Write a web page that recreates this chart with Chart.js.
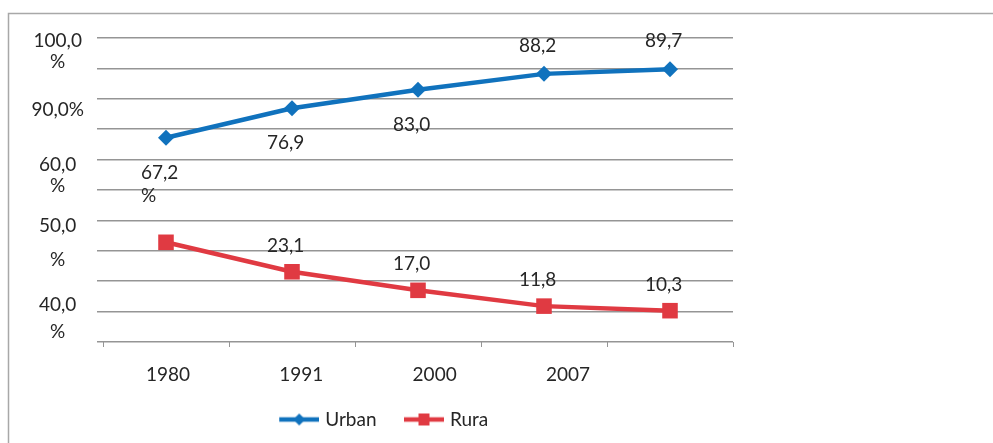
<!DOCTYPE html>
<html>
<head>
<meta charset="utf-8">
<script src="https://cdn.jsdelivr.net/npm/chart.js@4.4.0/dist/chart.umd.min.js"></script>
<style>
  html, body { margin: 0; padding: 0; background: #ffffff; }
  #c { display: block; }
</style>
</head>
<body>
<canvas id="c" width="993" height="443"></canvas>
<script>
// ---- data ----
const categories = ['1980', '1991', '2000', '2007', ''];
const urbanValues = [67.2, 76.9, 83.0, 88.2, 89.7];
const ruralValues = [32.8, 23.1, 17.0, 11.8, 10.3];
const urbanLabels = ['67,2\n%', '76,9', '83,0', '88,2', '89,7'];
const ruralLabels = ['', '23,1', '17,0', '11,8', '10,3'];
const seriesNames = ['Urban', 'Rura'];
const gridValues = [0, 10, 20, 30, 40, 50, 60, 70, 80, 90, 100];
const yTickValues = [99.2, 92.3, 76.4, 58.4, 51.2, 38.2, 27.0, 12.1, 3.2];
const yTickLabels = ['100,0', '%', '90,0%', '60,0', '%', '50,0', '%', '40,0', '%'];

const FONT = 'Lato';
const TEXT = '#262626';
const GRID = '#959595';
const BLUE = '#1072BD';
const RED = '#E03A42';

// legend icon: line + marker, drawn on a small canvas (left part left blank for spacing)
function legendIcon(color, shape) {
  const cv = document.createElement('canvas');
  cv.width = 51; cv.height = 16;
  const g = cv.getContext('2d');
  g.strokeStyle = color; g.lineWidth = 4.5;
  g.beginPath(); g.moveTo(11, 8); g.lineTo(51, 8); g.stroke();
  g.fillStyle = color;
  g.beginPath();
  if (shape === 'diamond') {
    g.moveTo(31, 2); g.lineTo(37, 8); g.lineTo(31, 14); g.lineTo(25, 8); g.closePath();
  } else {
    g.rect(25.5, 2, 11, 12);
  }
  g.fill();
  return cv;
}
const icons = [legendIcon(BLUE, 'diamond'), legendIcon(RED, 'square')];

const framePlugin = {
  id: 'frame',
  beforeDraw(chart) {
    const c = chart.ctx;
    c.save();
    c.strokeStyle = '#a8a8a8';
    c.lineWidth = 1.5;
    c.beginPath();
    c.moveTo(8.5, 443); c.lineTo(8.5, 13.5); c.lineTo(993, 13.5);
    c.stroke();
    c.restore();
  }
};

const valueLabelPlugin = {
  id: 'valueLabels',
  afterDatasetsDraw(chart) {
    const c = chart.ctx;
    const texts = [urbanLabels, ruralLabels];
    c.save();
    c.font = '19px ' + FONT;
    c.fillStyle = TEXT;
    c.textAlign = 'left';
    c.textBaseline = 'middle';
    texts.forEach((arr, di) => {
      const meta = chart.getDatasetMeta(di);
      meta.data.forEach((pt, i) => {
        const t = arr[i];
        if (!t) return;
        const lines = t.split('\n');
        let y;
        if (di === 0) y = i < 3 ? pt.y + 35 : pt.y - 28;
        else y = pt.y - 26;
        lines.forEach((ln, k) => c.fillText(ln, pt.x - 25, y + k * 23));
      });
    });
    c.restore();
  }
};

new Chart(document.getElementById('c'), {
  type: 'line',
  data: {
    labels: categories,
    datasets: [
      {
        label: seriesNames[0],
        data: urbanValues,
        borderColor: BLUE,
        backgroundColor: BLUE,
        borderWidth: 4.5,
        pointStyle: 'rectRot',
        pointRadius: 8,
        pointBorderWidth: 0,
        tension: 0,
        xAxisID: 'x',
        yAxisID: 'y'
      },
      {
        label: seriesNames[1],
        data: ruralValues,
        borderColor: RED,
        backgroundColor: RED,
        borderWidth: 4.5,
        pointStyle: 'rect',
        pointRadius: 11,
        pointBorderWidth: 0,
        tension: 0,
        xAxisID: 'x',
        yAxisID: 'y'
      }
    ]
  },
  options: {
    responsive: false,
    animation: false,
    devicePixelRatio: 1,
    layout: { padding: { left: 27, right: 260, top: 38, bottom: 4 } },
    plugins: {
      tooltip: { enabled: false },
      legend: {
        position: 'bottom',
        labels: {
          usePointStyle: true,
          pointStyleWidth: 44,
          padding: 20,
          color: TEXT,
          font: { family: FONT, size: 19 },
          generateLabels(chart) {
            return chart.data.datasets.map((ds, i) => ({
              text: ds.label,
              pointStyle: icons[i],
              fillStyle: ds.borderColor,
              strokeStyle: ds.borderColor,
              lineWidth: 0,
              hidden: false,
              datasetIndex: i,
              fontColor: TEXT
            }));
          }
        }
      }
    },
    scales: {
      x: {
        type: 'category',
        position: 'bottom',
        weight: 0,
        offset: true,
        grid: { display: true, offset: true, drawOnChartArea: false, drawTicks: true, tickLength: 5, color: GRID, lineWidth: 1 },
        border: { display: false },
        ticks: { display: false },
        afterFit(s) { s.height = 5; }
      },
      xYears: {
        type: 'linear',
        position: 'bottom',
        weight: 1,
        min: -0.4875,
        max: 4.238,
        grid: { display: false },
        border: { display: false },
        afterBuildTicks(s) {
          s.ticks = categories.map((c, i) => ({ value: i })).filter((t) => categories[t.value] !== '');
        },
        ticks: {
          autoSkip: false,
          maxRotation: 0,
          padding: 8,
          color: TEXT,
          font: { family: FONT, size: 19 },
          callback: (v) => categories[v] || ''
        },
        afterFit(s) { s.height = 43; }
      },
      y: {
        type: 'linear',
        position: 'left',
        min: 0,
        max: 100,
        border: { display: false },
        grid: {
          drawTicks: true,
          tickLength: 6,
          lineWidth: 1.5,
          color: (ctx) => (ctx.tick && gridValues.includes(ctx.tick.value)) ? GRID : 'rgba(0,0,0,0)'
        },
        afterBuildTicks(s) {
          const vals = gridValues.concat(yTickValues).sort((a, b) => a - b);
          s.ticks = vals.map((v) => ({ value: v }));
        },
        ticks: {
          autoSkip: false,
          crossAlign: 'center',
          padding: 13,
          color: TEXT,
          font: { family: FONT, size: 19 },
          callback: (v) => {
            const i = yTickValues.indexOf(v);
            return i >= 0 ? yTickLabels[i] : '';
          }
        },
        afterFit(s) { s.width = 76; }
      }
    }
  },
  plugins: [framePlugin, valueLabelPlugin]
});
</script>
</body>
</html>
